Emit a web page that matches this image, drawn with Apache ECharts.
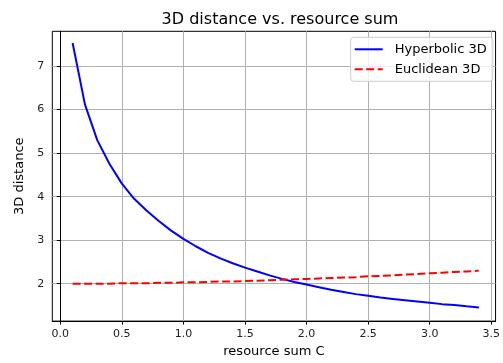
<!DOCTYPE html>
<html>
<head>
<meta charset="utf-8">
<script src="https://cdn.jsdelivr.net/npm/echarts@6/dist/echarts.min.js"></script>
<style>html,body{margin:0;padding:0;background:#fff;}#chart{width:503px;height:363px;}</style>
</head>
<body>
<div id="chart"></div>
<script>
const resourceSum = [0.1,0.2,0.3,0.4,0.5,0.6,0.7,0.8,0.9,1.0,1.1,1.2,1.3,1.4,1.5,1.6,1.7,1.8,1.9,2.0,2.1,2.2,2.3,2.4,2.5,2.6,2.7,2.8,2.9,3.0,3.1,3.2,3.3,3.4];
const hyperbolic3D = [7.53,6.12,5.30,4.75,4.30,3.95,3.68,3.44,3.22,3.03,2.86,2.71,2.58,2.47,2.37,2.28,2.19,2.11,2.04,1.98,1.92,1.86,1.81,1.76,1.72,1.68,1.65,1.62,1.59,1.56,1.53,1.51,1.48,1.455];
const euclidean3D = [2.00,2.00,2.00,2.00,2.01,2.01,2.01,2.02,2.02,2.03,2.03,2.04,2.05,2.05,2.06,2.07,2.08,2.09,2.10,2.11,2.12,2.13,2.14,2.15,2.17,2.18,2.19,2.21,2.22,2.24,2.25,2.27,2.28,2.30];
const xTicks = [0.0,0.5,1.0,1.5,2.0,2.5,3.0,3.5];
const yTicks = [2,3,4,5,6,7];
const seriesNames = ['Hyperbolic 3D','Euclidean 3D'];
const titleText = '3D distance vs. resource sum';
const xName = 'resource sum C';
const yName = '3D distance';

const font = 'DejaVu Sans';
const chart = echarts.init(document.getElementById('chart'), null, {renderer: 'canvas'});
const pairs = (xs, ys) => xs.map((x, i) => [x, ys[i]]);
chart.setOption({
  animation: false,
  backgroundColor: '#fff',
  title: {
    text: titleText, left: 275, top: 7, textAlign: 'center',
    textStyle: {fontFamily: font, fontSize: 16, fontWeight: 'normal', color: '#000'}
  },
  grid: {left: 52.3, right: 6.5, top: 31.3, bottom: 40.7, show: true, borderColor: '#000', borderWidth: 1, containLabel: false},
  legend: {
    orient: 'vertical', left: 350.7, top: 37.3,
    data: seriesNames,
    itemWidth: 28, itemHeight: 14, itemGap: 4,
    padding: [4, 6, 4, 3],
    borderColor: '#cccccc', borderWidth: 1, borderRadius: 3,
    backgroundColor: 'rgba(255,255,255,0.8)',
    itemStyle: {opacity: 0},
    textStyle: {fontFamily: font, fontSize: 13, color: '#000', lineHeight: 16, padding: [0, 0, 0, 7]}
  },
  xAxis: {
    type: 'value', min: -0.065, max: 3.535,
    name: xName, nameLocation: 'middle', nameGap: 23,
    nameTextStyle: {fontFamily: font, fontSize: 13, color: '#000'},
    axisLine: {show: true, lineStyle: {color: '#000', width: 1}},
    axisTick: {show: true, inside: false, length: 3.5, customValues: xTicks, lineStyle: {color: '#000', width: 1}},
    axisLabel: {customValues: xTicks, margin: 8, fontFamily: font, fontSize: 11, color: '#222', formatter: v => v.toFixed(1)},
    splitLine: {show: true, lineStyle: {color: '#b0b0b0', width: 1}}
  },
  yAxis: {
    type: 'value', min: 1.14, max: 7.8,
    name: yName, nameLocation: 'middle', nameGap: 25, nameRotate: 90,
    nameTextStyle: {fontFamily: font, fontSize: 13, color: '#000'},
    axisLine: {show: true, lineStyle: {color: '#000', width: 1}},
    axisTick: {show: true, inside: false, length: 3.5, customValues: yTicks, lineStyle: {color: '#000', width: 1}},
    axisLabel: {customValues: yTicks, margin: 8, fontFamily: font, fontSize: 11, color: '#222', formatter: v => String(Math.round(v))},
    splitLine: {show: true, lineStyle: {color: '#b0b0b0', width: 1}}
  },
  series: [
    {
      name: seriesNames[0], type: 'line', data: pairs(resourceSum, hyperbolic3D),
      showSymbol: false, symbol: 'none', smooth: false,
      lineStyle: {color: '#0000ff', width: 2}, itemStyle: {color: '#0000ff'}
    },
    {
      name: seriesNames[1], type: 'line', data: pairs(resourceSum, euclidean3D),
      showSymbol: false, symbol: 'none', smooth: false,
      lineStyle: {color: '#ff0000', width: 2, type: [8, 3.5]}, itemStyle: {color: '#ff0000'}
    }
  ]
});
</script>
</body>
</html>
